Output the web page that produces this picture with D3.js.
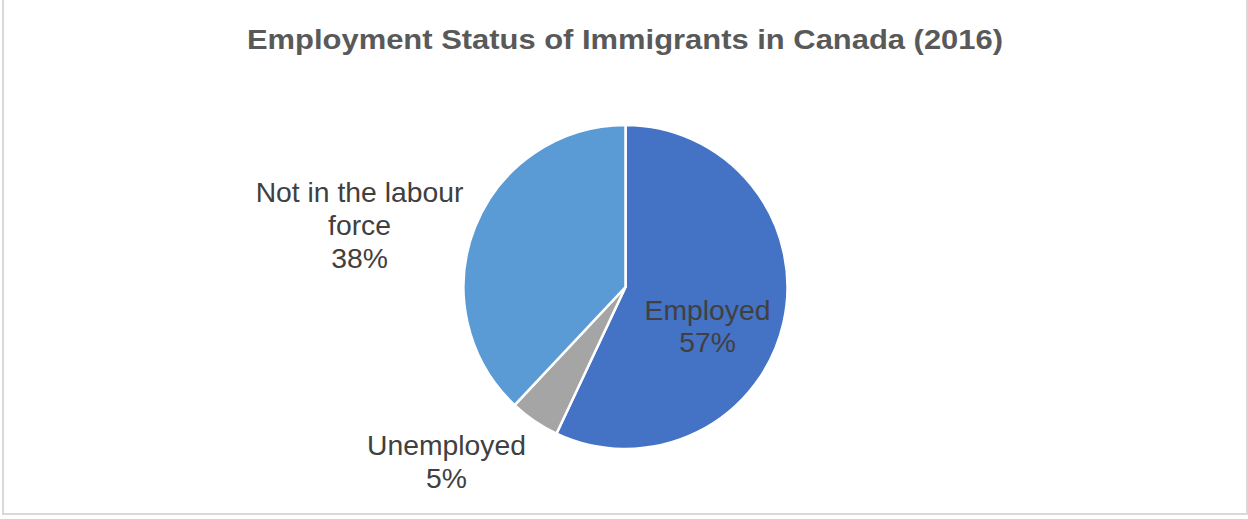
<!DOCTYPE html>
<html>
<head>
<meta charset="utf-8">
<script src="https://cdn.jsdelivr.net/npm/d3@7"></script>
<style>
  html, body { margin: 0; padding: 0; background: #ffffff; }
  svg { display: block; }
</style>
</head>
<body>
<svg id="chart" width="1248" height="519"></svg>
<script>
// Immigrant employment status, Canada 2016 (share of population, %)
const categories = ["Employed", "Unemployed", "Not in the labour force"];
const shares = [57, 5, 38];
const colors = ["#4472C4", "#A5A5A5", "#5B9BD5"];
const title = "Employment Status of Immigrants in Canada (2016)";

const W = 1248, H = 519;
const cx = 625.5, cy = 287, radius = 162;

const svg = d3.select("#chart");

// chart frame
svg.append("rect")
  .attr("x", 3).attr("y", -10)
  .attr("width", 1244).attr("height", 524)
  .attr("fill", "#ffffff")
  .attr("stroke", "#d9d9d9")
  .attr("stroke-width", 2);

// title, stretched to its full width
svg.append("text")
  .attr("x", 625).attr("y", 49)
  .attr("text-anchor", "middle")
  .attr("font-family", "'Liberation Sans', Arial, sans-serif")
  .attr("font-weight", "bold")
  .attr("font-size", 27)
  .attr("textLength", 756)
  .attr("lengthAdjust", "spacingAndGlyphs")
  .attr("fill", "#595959")
  .text(title);

const data = categories.map((c, i) => ({ name: c, value: shares[i], color: colors[i] }));

const pie = d3.pie().value(d => d.value).sort(null);
const arc = d3.arc().innerRadius(0).outerRadius(radius);

const g = svg.append("g").attr("transform", `translate(${cx},${cy})`);

g.selectAll("path")
  .data(pie(data))
  .join("path")
  .attr("d", arc)
  .attr("fill", d => d.data.color)
  .attr("stroke", "#ffffff")
  .attr("stroke-width", 2.5)
  .attr("stroke-linejoin", "round");

// data labels: category name (wrapped) and percentage, offsets from pie centre
const labelLayout = {
  "Employed": { dx: 82, dy: 32.5, lines: ["Employed"] },
  "Unemployed": { dx: -179, dy: 168, lines: ["Unemployed"] },
  "Not in the labour force": { dx: -266, dy: -85, lines: ["Not in the labour", "force"] }
};
const lineH = 32.8;

const labels = g.selectAll("text.lbl")
  .data(data)
  .join("text")
  .attr("class", "lbl")
  .attr("text-anchor", "middle")
  .attr("font-family", "'Liberation Sans', Arial, sans-serif")
  .attr("font-size", 28.3)
  .attr("fill", "#404040");

labels.each(function(d) {
  const L = labelLayout[d.name];
  const t = d3.select(this);
  const lines = L.lines.concat([`${d.value}%`]);
  lines.forEach((s, i) => {
    t.append("tspan")
      .attr("x", L.dx)
      .attr("y", L.dy + i * lineH)
      .text(s);
  });
});
</script>
</body>
</html>
